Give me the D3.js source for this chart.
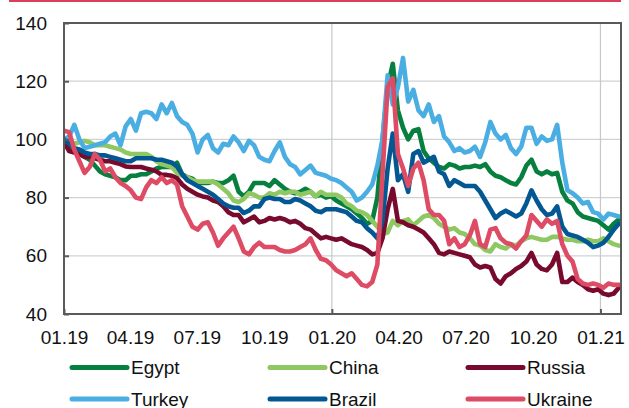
<!DOCTYPE html>
<html>
<head>
<meta charset="utf-8">
<script src="https://cdn.jsdelivr.net/npm/d3@7"></script>
<style>
  html, body { margin: 0; padding: 0; background: #ffffff; }
  svg { display: block; font-family: "Liberation Sans", Arial, sans-serif; }
</style>
</head>
<body>
<svg id="chart" width="629" height="408"></svg>
<script>
// Weekly index values, 01.01.2019 = 100
const startDate = new Date(2019, 0, 1);
const endDate = new Date(2021, 0, 29);
const stepDays = 7;

const yTicks = [40, 60, 80, 100, 120, 140];

const egypt = [
  100, 98, 96, 95, 94, 93, 91, 89, 88, 87.5, 87, 86, 86, 87.5, 87.5, 88, 88, 89, 90, 90.5, 90.5, 90.5, 92, 88, 87, 86.5, 85,
  85, 85, 85.5, 85, 85, 86, 87.5, 82, 80.5, 82, 85, 85,
  85, 84, 86, 84.5, 83, 82, 81.5, 82, 83, 82, 80.5, 81, 80, 80.5,
  79, 78, 77, 76, 74.5, 73, 71, 72, 80, 100, 118, 126, 110, 104, 100, 103, 103.5, 96, 93.5, 92, 90.5, 90, 91.5, 91, 90, 90.5, 90.5,
  91, 90.5, 91.5, 89, 87.5, 87, 86, 85, 84.5, 87, 91, 93, 89, 88, 89, 88, 88.5, 82, 79, 78, 75, 73.5, 73, 72.5, 72, 70.5, 69, 71, 72.5
];
const china = [
  100, 99.5, 98.5, 99, 99.5, 99, 98, 98, 98, 97.5, 97, 96.5, 95.5, 95, 95, 95, 95, 94, 92.5, 91.5, 91, 90.5, 88.5, 87.5, 87, 86, 85.5,
  85.5, 85.5, 85.5, 84.5, 83, 81.5, 79, 78.5, 79.5, 81.5, 81, 80,
  80, 81.5, 81, 82, 81.5, 82, 82, 81, 81.5, 82, 80.5, 82, 81, 81,
  81, 80, 78, 77, 75.5, 75, 74, 72, 70, 67.5, 68, 72, 70.5, 72, 72.5, 70.5, 72, 73.5, 74, 73, 71, 70, 69, 69.5, 68, 67.5, 66,
  64, 63.5, 62, 61.5, 64, 63, 62.5, 64, 63.5, 65, 66, 66.5, 66, 65.5, 65.5, 66.5, 66.5, 66, 65.5, 65.5, 65, 65, 65.5, 65, 65, 66, 65, 64, 63.5
];
const russia = [
  99, 96, 95.5, 95, 94, 94, 93.5, 93, 92.5, 92.5, 92, 91.5, 90.7, 90.5, 90.5, 90.5, 90, 89.6, 89, 87.8, 87.8, 87.5, 86.7, 84.5, 83, 82, 81,
  80.4, 80, 79, 78.5, 77, 75, 74, 74, 71.5, 72.5, 73.5, 71.5,
  72, 73, 72.5, 73, 72.5, 71.5, 72, 71, 69.5, 69, 67.5, 66, 66.5, 66,
  65.5, 66, 65, 64, 63.5, 63, 62, 60.5, 61, 66, 76, 83, 72, 71.5, 70.5, 70, 69, 68, 66, 64, 61, 60.5, 61.5, 61, 60.5, 60, 59.5,
  57, 56, 56.5, 56, 52, 50.5, 53, 54, 55.5, 56.5, 58, 61, 57, 55.5, 55, 57, 61, 51, 51, 52.5, 51, 50, 48.5, 48, 48.5, 47, 46.5, 47, 49
];
const turkey = [
  100, 101, 105, 100, 97, 97.5, 98, 98.5, 99, 101, 102, 98, 104.5, 107, 103, 109, 109.5, 109, 107, 112, 109, 112.5, 108, 106, 105, 102, 95.5,
  100, 101.5, 97, 95.5, 98.5, 98, 101, 99, 96, 99.5, 98, 94,
  93, 92.5, 96, 99, 94, 91.5, 90.5, 88, 89.5, 91, 88.5, 88, 87.5, 86.5,
  86, 85, 83.5, 82, 79, 80, 82, 84.5, 91, 100, 122, 112, 118, 128, 113, 117, 110, 108, 112, 106, 108, 101, 99, 96, 97, 95.5, 96,
  97.5, 94, 99, 106, 102, 100, 101.5, 97, 95, 97.5, 104, 104, 98.5, 101, 99.5, 100, 105, 92, 82.5, 81.5, 80, 78, 78.5, 75, 74.5, 72.5, 74.5, 74, 73.5
];
const brazil = [
  100, 98.5, 97, 96.5, 95.5, 95, 95, 94.5, 94.5, 94, 93.5, 93, 92.5, 92.5, 93.5, 93.5, 93.5, 93.5, 93, 93, 92.5, 92, 90.7, 88, 86, 85, 84,
  83, 82, 81, 79.5, 78, 77, 76.5, 76.5, 74.7, 75.5, 77, 77,
  79.5, 80, 79.5, 79.5, 78.5, 78.5, 79.5, 79, 78, 77, 75.5, 75, 76, 76,
  76, 75.5, 75, 73.5, 72, 71.5, 69.5, 68, 66, 72, 90, 102, 86, 88, 82, 95, 96, 92, 93, 94, 89, 88, 84, 86, 85, 84, 84,
  84, 82, 79, 76, 73, 74.5, 75.5, 74.5, 73.5, 74.5, 78, 82.5, 79, 76, 74, 74.5, 77, 70, 67.5, 67, 66.5, 65.5, 64.5, 63, 63.5, 64.5, 66.5, 69, 71
];
const ukraine = [
  103, 102.5, 96.5, 92.5, 88.5, 90.5, 95, 93, 89, 90, 87, 85, 84, 82.5, 80, 79.5, 83.5, 86, 85, 87, 85, 86, 84.5, 77, 73.5, 70, 69,
  71, 71.5, 68, 63.5, 66, 68, 70, 66, 61.5, 60.5, 63, 64.5,
  63, 63, 63, 62, 61.5, 61.5, 62, 63, 64, 66, 62, 59, 58.5, 57,
  55, 54, 53, 54, 52, 50, 49.5, 51, 57, 88, 118, 121, 95, 90, 84, 90, 92, 86, 76, 74, 74, 72, 64, 66, 63, 64, 67,
  72, 64, 63, 69, 69.5, 66, 64.5, 64, 62.5, 65, 67, 74, 72, 70, 72.5, 71, 72, 64, 60, 58, 52, 50.5, 50, 50.5, 50, 49, 50.5, 50, 50
];

const seriesNames = ["Egypt", "China", "Russia", "Turkey", "Brazil", "Ukraine"];
const seriesValues = [egypt, china, russia, turkey, brazil, ukraine];
const seriesColors = ["#07803f", "#8fc862", "#780a2e", "#4aaee2", "#035893", "#de4b64"];

const dates = egypt.map((_, i) => d3.timeDay.offset(startDate, i * stepDays));

const svg = d3.select("#chart");
const plot = { left: 64, right: 621, top: 23, bottom: 314 };
const fontSize = 19;

const x = d3.scaleTime().domain([startDate, endDate]).range([plot.left, plot.right]);
const y = d3.scaleLinear().domain([40, 140]).range([plot.bottom, plot.top]);

// top rule
svg.append("line")
  .attr("x1", 9).attr("x2", 621).attr("y1", 1).attr("y2", 1)
  .attr("stroke", "#d9405c").attr("stroke-width", 2);

// horizontal gridlines
svg.append("g")
  .selectAll("line")
  .data(yTicks.filter(v => v > 40 && v < 140))
  .join("line")
  .attr("x1", plot.left).attr("x2", plot.right)
  .attr("y1", d => y(d)).attr("y2", d => y(d))
  .attr("stroke", "#cfd2d4").attr("stroke-width", 1.2);

// yearly vertical gridlines
const yearTicks = [new Date(2020, 0, 1), new Date(2021, 0, 1)];
svg.append("g")
  .selectAll("line")
  .data(yearTicks)
  .join("line")
  .attr("x1", d => x(d)).attr("x2", d => x(d))
  .attr("y1", plot.top).attr("y2", plot.bottom)
  .attr("stroke", "#c4c8cb").attr("stroke-width", 1.2);

// series lines
svg.append("defs").append("clipPath").attr("id", "plotClip")
  .append("rect")
  .attr("x", plot.left).attr("y", plot.top)
  .attr("width", plot.right - plot.left).attr("height", plot.bottom - plot.top);

const line = d3.line()
  .x((d, i) => x(dates[i]))
  .y(d => y(d));

svg.append("g")
  .attr("clip-path", "url(#plotClip)")
  .selectAll("path")
  .data(seriesValues)
  .join("path")
  .attr("d", d => line(d))
  .attr("fill", "none")
  .attr("stroke", (d, i) => seriesColors[i])
  .attr("stroke-width", 4.6)
  .attr("stroke-linejoin", "round")
  .attr("stroke-linecap", "round");

// frame
svg.append("rect")
  .attr("x", plot.left).attr("y", plot.top)
  .attr("width", plot.right - plot.left).attr("height", plot.bottom - plot.top)
  .attr("fill", "none").attr("stroke", "#5a5a5a").attr("stroke-width", 2);

// y axis
const yAxis = d3.axisLeft(y).tickValues(yTicks).tickSize(-5).tickPadding(17);
const gy = svg.append("g").attr("transform", `translate(${plot.left},0)`).call(yAxis);
gy.select(".domain").remove();
gy.selectAll(".tick line").attr("stroke", "#5a5a5a").attr("stroke-width", 2);
gy.selectAll(".tick text")
  .attr("font-size", fontSize).attr("fill", "#111").attr("font-family", "Liberation Sans, Arial, sans-serif");

// x axis
const xAxis = d3.axisBottom(x)
  .ticks(d3.timeMonth.every(3))
  .tickFormat(d3.timeFormat("%m.%y"))
  .tickSize(-5).tickPadding(17);
const gx = svg.append("g").attr("transform", `translate(0,${plot.bottom})`).call(xAxis);
gx.select(".domain").remove();
gx.selectAll(".tick line")
  .attr("stroke", "#5a5a5a").attr("stroke-width", 2)
  .attr("opacity", d => d.getMonth() === 0 ? 1 : 0);
gx.selectAll(".tick text")
  .attr("font-size", fontSize).attr("fill", "#111").attr("font-family", "Liberation Sans, Arial, sans-serif");

// legend
const legendCols = [72, 270, 468];
const legendRows = [367.5, 399];
const legend = svg.append("g")
  .selectAll("g")
  .data(seriesNames)
  .join("g")
  .attr("transform", (d, i) => `translate(${legendCols[i % 3]},${legendRows[Math.floor(i / 3)]})`);
legend.append("line")
  .attr("x1", 0).attr("x2", 55).attr("y1", 0).attr("y2", 0)
  .attr("stroke", (d, i) => seriesColors[i])
  .attr("stroke-width", 5).attr("stroke-linecap", "round");
legend.append("text")
  .attr("x", 59).attr("y", 0).attr("dy", "0.35em")
  .attr("font-size", fontSize).attr("fill", "#111")
  .text(d => d);
</script>
</body>
</html>
